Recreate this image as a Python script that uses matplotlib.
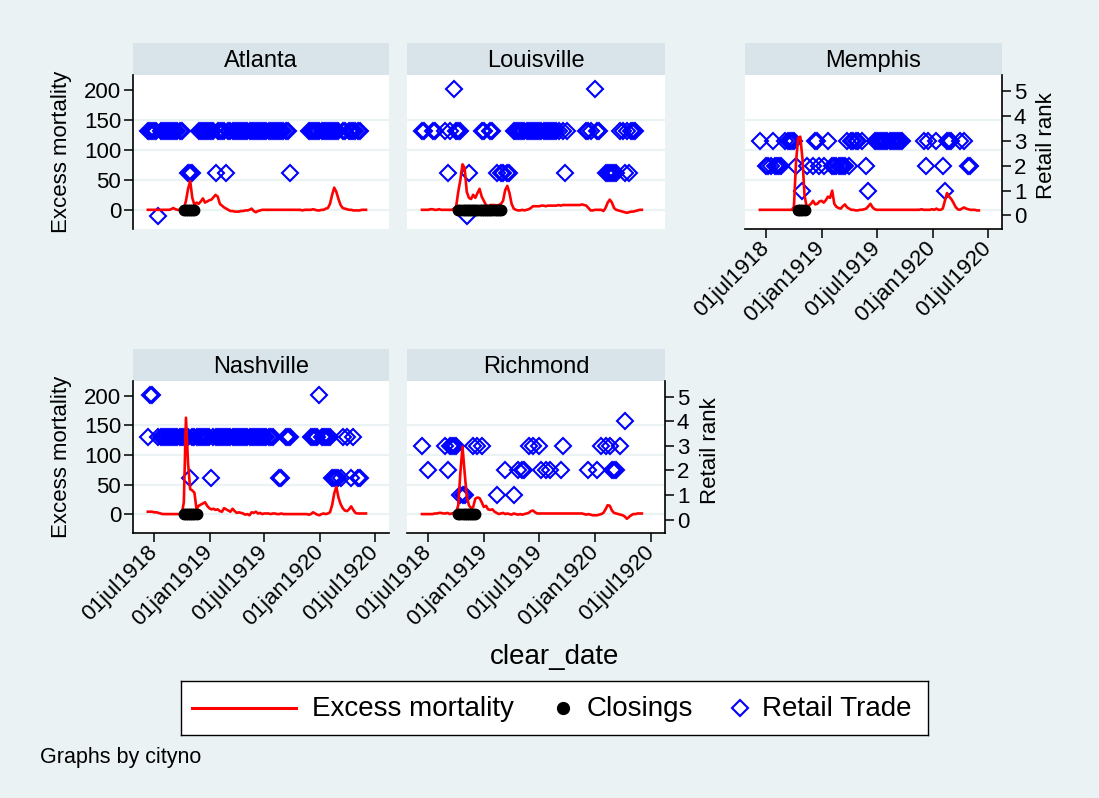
import matplotlib
matplotlib.use("Agg")
import matplotlib.pyplot as plt
import matplotlib.transforms as mtransforms
import pandas as pd

plt.rcParams['font.family'] = ['Liberation Sans', 'DejaVu Sans']

W, H = 1099, 798
BG = '#eaf2f3'
STRIP = '#d9e4ea'
GRID = '#eaf2f3'

# weekly observations, first week of the series
first_week = "1918-06-11"
n_weeks = 104

# excess mortality per week
excess_atlanta = [
    0, 0, 0, 0, 0, 0, 0, 0, 0, 0,
    0, 1, 3, 1, 0, 0, 0, 2, 15, 35,
    48, 20, 8, 12, 10, 14, 19, 12, 14, 16,
    17, 21, 25, 22, 10, 7, 4, 2, 0, -2,
    -2, -3, -3, -3, -2, -2, -1, -1, 0, 2,
    -2, -4, -2, -1, 0, 0, 0, 0, 0, 0,
    0, 0, 0, 0, 0, 0, 0, 0, 0, 0,
    0, 0, 0, -1, 0, 0, 0, 0, 1, 0,
    -1, -1, 0, 0, 2, 3, 10, 25, 37, 30,
    18, 8, 3, 2, 1, 0, 0, -1, -1, -1,
    -1, 0, 0, 0]
excess_louisville = [
    0, 0, 0, 0, 1, 1, 0, 0, 1, 0,
    0, 0, 0, 0, 0, 2, 5, 30, 50, 76,
    70, 30, 20, 18, 25, 20, 28, 35, 22, 15,
    8, 5, 8, 8, 8, 7, 8, 10, 15, 33,
    40, 28, 10, 2, 0, -1, -1, 0, -1, 0,
    1, 3, 6, 6, 6, 6, 7, 7, 6, 7,
    7, 7, 7, 7, 8, 7, 8, 8, 8, 8,
    8, 8, 8, 8, 8, 9, 8, 7, 3, -1,
    -1, 0, 0, 0, 0, -2, 3, 12, 17, 12,
    3, 0, -1, -2, -3, -4, -5, -4, -3, -3,
    -2, -1, 0, 0]
excess_memphis = [
    0, 0, 0, 0, 0, 0, 0, 0, 0, 0,
    0, 0, 0, 0, 0, 0, 5, 80, 120, 122,
    86, 24, 5, 7, 10, 15, 9, 10, 14, 15,
    12, 16, 22, 20, 32, 10, 5, 3, 2, 6,
    9, 4, 2, 0, 0, -1, -1, 0, 0, 1,
    2, 6, 10, 4, 1, 0, 0, 0, 0, 0,
    0, 0, 0, 0, 0, 0, 0, 0, 0, 0,
    0, 0, 0, 0, 0, 0, 1, 0, 0, 0,
    0, 1, 0, 2, 0, 0, 2, 15, 28, 22,
    18, 12, 5, 1, 0, 2, 4, 2, 1, 0,
    0, 0, -1, -1]
excess_nashville = [
    4, 4, 4, 3, 3, 2, 1, 0, 0, 0,
    0, 0, 0, 0, 0, 0, 0, 20, 163, 85,
    42, 40, 36, 8, 14, 16, 18, 20, 14, 10,
    8, 9, 7, 8, 5, 4, 10, 8, 6, 4,
    9, 5, 2, 3, 2, 1, -1, 0, -2, 3,
    2, 4, 1, 2, 0, 1, 1, 1, 0, 1,
    1, 0, 0, 1, 0, 0, 0, 0, 0, 0,
    0, 0, 0, 0, 0, 0, -1, 0, 3, 1,
    -1, -2, 0, 1, 0, 1, 3, 15, 35, 46,
    28, 17, 10, 6, 5, 8, 13, 7, 2, 1,
    1, 1, 1, 1]
excess_richmond = [
    0, 0, 0, 0, 0, 0, 1, 1, 2, 2,
    1, 1, 2, 0, 1, 2, 2, 15, 70, 114,
    70, 30, 15, 10, 12, 26, 28, 27, 20, 12,
    14, 8, 7, 8, 4, 2, 0, 1, 2, 0,
    1, 0, -1, 1, 0, -1, 0, -1, 0, 1,
    2, 5, 6, 3, 1, 1, 1, 1, 1, 1,
    1, 1, 1, 1, 1, 1, 1, 1, 1, 1,
    1, 1, 1, 1, 1, 1, 0, -1, 0, -1,
    -2, -2, -2, -1, 0, 2, 8, 15, 14, 6,
    2, 1, 0, -1, -2, -4, -8, -5, -2, 0,
    0, 1, 1, 1]

# weeks (index into the weekly series) with closing orders in force
closed_atlanta = [17, 18, 19, 20, 21, 22]
closed_louisville = [17, 18, 19, 20, 21, 22, 23, 24, 25, 26, 27,
                     28, 29, 30, 31, 32, 33, 34, 35, 36, 37]
closed_memphis = [18, 19, 20, 21]
closed_nashville = [17, 18, 19, 20, 21, 22, 23]
closed_richmond = [17, 18, 19, 20, 21, 22, 23, 24, 25]
closing_level = 0

# retail trade rank, one character per week ('.' = no report)
retail_atlanta = ("3333313333" "3333333..2" "22..333333" "3323333233" "3333333333"
                  "3333333333" "33333332.." "......3333" "3333333333" "3.33.33333" "3...")
retail_louisville = ("33...33..." ".323.4333." ".12.....33" "..33.2.22." "22.3333333"
                     "3333333333" "33333.323." ".......333" ".433..2222" "22.3323233" "3...")
retail_memphis = ("3..2223222" "2.333332.." "1.2..2332." "2.3.222222" "2323333.3."
                  "21..333333" "33333333.." ".......323" "...3..2133" "3...3.3.22" "....")
retail_nashville = ("344..33333" "3333333333" "2333333333" "2333333333" "3333333333"
                    "3333333333" "..22.333.." ".......333" "3433333222" "223.3.23.2" "2...")
retail_richmond = ("3..2......" ".323333.11" "1...3.3.3." ".....1...2" "...1.2.22."
                   "3.3..32.2." "2....23..." "........2." "..2.3.3.32" "22.3.4...." "....")

xtick_dates = ["1918-07-01", "1919-01-01", "1919-07-01", "1920-01-01", "1920-07-01"]
xtick_labels = ["01jul1918", "01jan1919", "01jul1919", "01jan1920", "01jul1920"]
ytick_values = [0, 50, 100, 150, 200]
grid_values = [0, 50, 100, 150]
rank_ticks = [0, 1, 2, 3, 4, 5]

weeks = pd.date_range(first_week, periods=n_weeks, freq="7D")
x_range = (pd.Timestamp("1918-04-23"), pd.Timestamp("1920-08-16"))
y_range = (-32, 225)
rank_range_shown = (-0.55, 5.65)
rank_range_hidden = (0.68, 4.34)

DIAMOND = dict(linestyle='none', marker='D', ms=8.3, mfc='none', mec='#0000ff', mew=1.5)


def px_axes(x0, y0, x1, y1):
    return [x0 / W, 1 - y1 / H, (x1 - x0) / W, (y1 - y0) / H]


def retail_points(code):
    assert len(code) == n_weeks
    idx = [i for i, c in enumerate(code) if c != '.']
    return weeks[idx], [int(code[i]) for i in idx]


fig = plt.figure(figsize=(W / 100, H / 100), dpi=100, facecolor=BG)

# name, plot box (px), data, axes shown: left, bottom, right
panels = [
    ("Atlanta", (133, 75, 389, 229), excess_atlanta, closed_atlanta, retail_atlanta,
     True, False, False),
    ("Louisville", (407, 75, 665, 229), excess_louisville, closed_louisville, retail_louisville,
     False, False, False),
    ("Memphis", (745, 75, 1002, 229), excess_memphis, closed_memphis, retail_memphis,
     False, True, True),
    ("Nashville", (133, 381, 389, 533), excess_nashville, closed_nashville, retail_nashville,
     True, True, False),
    ("Richmond", (407, 381, 665, 533), excess_richmond, closed_richmond, retail_richmond,
     False, True, True),
]

for name, box, excess, closed, retail, show_left, show_bottom, show_right in panels:
    x0, y0, x1, y1 = box

    # title strip
    sax = fig.add_axes(px_axes(x0, y0 - 32, x1, y0))
    sax.set_facecolor(STRIP)
    sax.set_xticks([])
    sax.set_yticks([])
    for s in sax.spines.values():
        s.set_visible(False)
    sax.text(0.5, 0.45, name, ha='center', va='center', fontsize=17, transform=sax.transAxes)

    ax = fig.add_axes(px_axes(x0, y0, x1, y1))
    rax = ax.twinx()
    ax.set_zorder(rax.get_zorder() + 1)
    ax.patch.set_visible(False)
    rax.patch.set_visible(True)
    rax.patch.set_facecolor('white')

    for s in list(ax.spines.values()) + list(rax.spines.values()):
        s.set_visible(False)
        s.set_linewidth(1.2)
        s.set_color('black')

    ax.set_xlim(*x_range)
    ax.set_ylim(*y_range)

    # grid follows the mortality scale but sits under the retail markers
    grid_tf = mtransforms.blended_transform_factory(rax.transAxes, ax.transData)
    for g in grid_values:
        rax.plot([0, 1], [g, g], color=GRID, lw=1.6, zorder=0, transform=grid_tf)

    # retail rank on the second axis
    rx, ry = retail_points(retail)
    rax.plot(rx, ry, zorder=2, **DIAMOND)
    rax.set_ylim(*(rank_range_shown if show_right else rank_range_hidden))

    ax.plot(weeks, excess, color='#ff0000', lw=1.9, zorder=3)
    ax.plot(weeks[closed], [closing_level] * len(closed), linestyle='none',
            marker='o', ms=7.5, color='black', zorder=4)

    ax.set_yticks(ytick_values)
    if show_left:
        ax.spines['left'].set_visible(True)
        ax.tick_params(axis='y', left=True, labelleft=True, length=6.5, width=1.1,
                       labelsize=16, pad=2)
    else:
        ax.tick_params(axis='y', left=False, labelleft=False)

    ax.set_xticks(pd.to_datetime(xtick_dates))
    if show_bottom:
        ax.spines['bottom'].set_visible(True)
        ax.set_xticklabels(xtick_labels, rotation=45, ha='right', va='center',
                           rotation_mode='anchor')
        ax.tick_params(axis='x', bottom=True, length=6.5, width=1.1, labelsize=16, pad=5)
    else:
        ax.tick_params(axis='x', bottom=False, labelbottom=False)

    if show_right:
        rax.spines['right'].set_visible(True)
        rax.set_yticks(rank_ticks)
        rax.tick_params(axis='y', right=True, labelright=True, length=6.5, width=1.1,
                        labelsize=16, pad=2)
    else:
        rax.tick_params(axis='y', right=False, labelright=False)
    rax.tick_params(axis='x', bottom=False, labelbottom=False)

# axis titles
for yc in (152, 457):
    fig.text(61 / W, 1 - yc / H, "Excess mortality", rotation=90,
             ha='center', va='center', fontsize=16)
for xc, yc in ((1047, 146), (710, 451)):
    fig.text(xc / W, 1 - yc / H, "Retail rank", rotation=90,
             ha='center', va='center', fontsize=16)
fig.text(555 / W, 1 - 657 / H, "clear_date", ha='center', va='center', fontsize=20)

# legend box
lax = fig.add_axes(px_axes(181, 681, 928, 735))
lax.set_xlim(181, 928)
lax.set_ylim(735, 681)
lax.set_xticks([])
lax.set_yticks([])
lax.set_facecolor('white')
for s in lax.spines.values():
    s.set_linewidth(1.0)
    s.set_color('black')
lax.plot([192, 296], [708, 708], color='#ff0000', lw=2.2)
lax.text(312, 709, "Excess mortality", ha='left', va='center', fontsize=20)
lax.plot([563], [708], marker='o', ms=8.5, color='black')
lax.text(587, 709, "Closings", ha='left', va='center', fontsize=20)
lax.plot([740], [708], **DIAMOND)
lax.text(762, 709, "Retail Trade", ha='left', va='center', fontsize=20)

fig.text(40 / W, 1 - 757 / H, "Graphs by cityno", ha='left', va='center', fontsize=15.5)

fig.savefig("out.png", dpi=100, facecolor=BG)
